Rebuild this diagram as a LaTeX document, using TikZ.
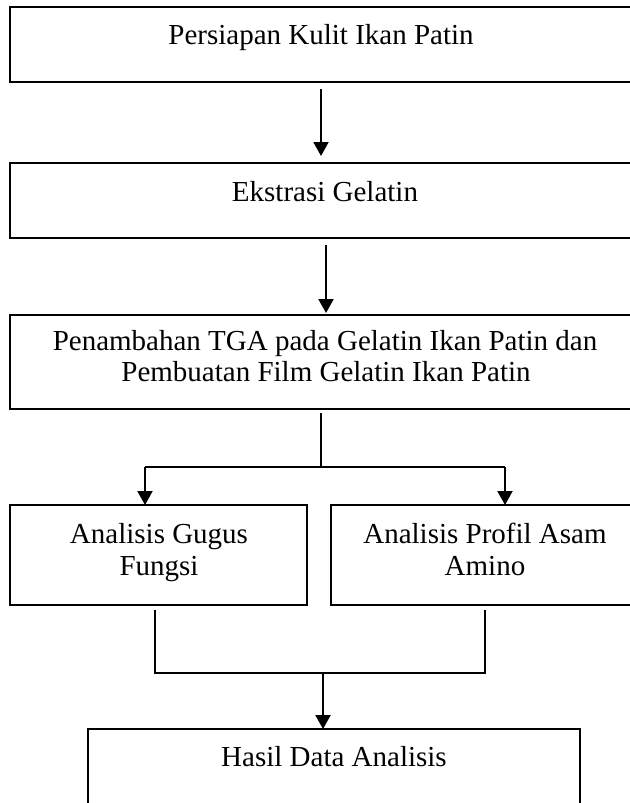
\documentclass[tikz,border=0pt]{standalone}
\usepackage{fontspec}
\setmainfont{Liberation Serif}
\usetikzlibrary{arrows.meta}
\begin{document}
\begin{tikzpicture}[x=0.75pt,y=-0.75pt,
  box/.style={draw, line width=1.5pt, anchor=north west, inner sep=0pt, outer sep=0pt},
  lbl/.style={anchor=base, font=\fontsize{21.75pt}{24pt}\selectfont, inner sep=0pt},
  conn/.style={line width=1.5pt},
  arr/.style={conn, -{Triangle[length=10.5pt,width=11.25pt]}}]
\useasboundingbox (0,0) rectangle (630,803);
\clip (0,0) rectangle (630,803);
% boxes
\node[box, minimum width=476.25pt, minimum height=56.25pt] (b1) at (10,7) {};
\node[box, minimum width=476.25pt, minimum height=56.25pt] (b2) at (10,163) {};
\node[box, minimum width=476.25pt, minimum height=70.5pt] (b3) at (10,315) {};
\node[box, minimum width=222.75pt, minimum height=75pt] (b4) at (10,505) {};
\node[box, minimum width=235.5pt, minimum height=75pt] (b5) at (331,505) {};
\node[box, minimum width=369pt, minimum height=68.25pt] (b6) at (88,729) {};
% texts
\node[lbl] (t1) at (321,44) {Persiapan Kulit Ikan Patin};
\node[lbl] (t2) at (325,201) {Ekstrasi Gelatin};
\node[lbl] (t3a) at (325,350) {Penambahan TGA pada Gelatin Ikan Patin dan};
\node[lbl] (t3b) at (326,381) {Pembuatan Film Gelatin Ikan Patin};
\node[lbl] (t4a) at (159,543) {Analisis Gugus};
\node[lbl] (t4b) at (159,575) {Fungsi};
\node[lbl] (t5a) at (485,543) {Analisis Profil Asam};
\node[lbl] (t5b) at (485,575) {Amino};
\node[lbl] (t6) at (334,766) {Hasil Data Analisis};
% connector points
\coordinate (a1) at (321,0);
\coordinate (a2) at (326,0);
\coordinate (j1) at (321,467);
\coordinate (jl) at (145,467);
\coordinate (jr) at (505,467);
\coordinate (kl) at (155,673);
\coordinate (kr) at (485,673);
\coordinate (k) at (323,673);
% connectors
\draw[arr] ([yshift=-5.25pt]b1.south -| a1) -- ([yshift=5.25pt]b2.north -| a1);
\draw[arr] ([yshift=-5.25pt]b2.south -| a2) -- ([yshift=1.5pt]b3.north -| a2);
\draw[conn] ([yshift=-3pt]b3.south -| j1) -- (j1);
\draw[conn, line cap=square] (jl) -- (jr);
\draw[arr] (jl) -- (jl |- b4.north);
\draw[arr] (jr) -- (jr |- b5.north);
\draw[conn, line join=miter] ([yshift=-3.75pt]b4.south -| kl) -- (kl) -- (kr) -- ([yshift=-3.75pt]b5.south -| kr);
\draw[arr] (k) -- (k |- b6.north);
\end{tikzpicture}
\end{document}
